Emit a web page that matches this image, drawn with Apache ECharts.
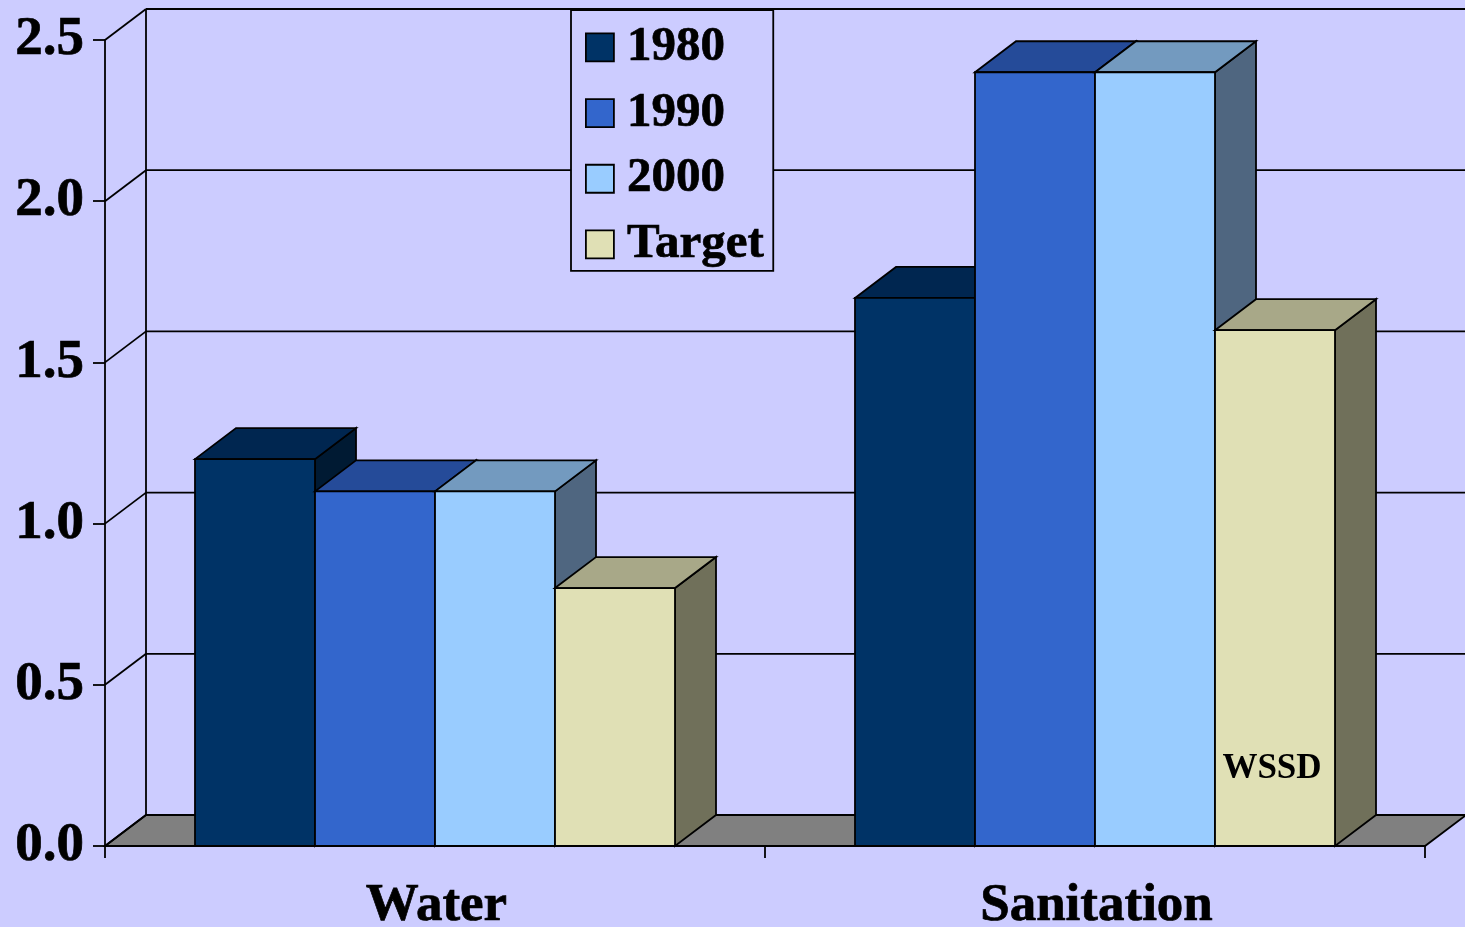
<!DOCTYPE html>
<html>
<head>
<meta charset="utf-8">
<title>Water and sanitation</title>
<script src="https://cdn.jsdelivr.net/npm/echarts@6/dist/echarts.min.js"></script>
<style>
  html, body { margin: 0; padding: 0; background: #ccccff; overflow: hidden; }
  #chart { width: 1465px; height: 927px; }
</style>
</head>
<body>
<div id="chart"></div>
<script>
// Chart values
const categories = ['Water', 'Sanitation'];
const periods = ['1980', '1990', '2000', 'Target'];
const values1980 = [1.2, 1.7];
const values1990 = [1.1, 2.4];
const values2000 = [1.1, 2.4];
const valuesTarget = [0.8, 1.6];
const yTicks = [0, 0.5, 1.0, 1.5, 2.0, 2.5];
const targetNotes = ['', 'WSSD'];
const noteLevel = 0.24;

// Drawing constants
const FONT = '"Liberation Serif", "Times New Roman", serif';
const DEPTH_X = 41;
const DEPTH_Y = -31;
const BAR_SHARE = 120 / 660;
const STROKE = '#000000';
const LINE_W = 1.8;
const TEXT_WEIGHT = { color: '#000', textBorderColor: '#000', textBorderWidth: 0.7 };

// front, top, side fill for each period
const palette = [
  { front: '#003366', top: '#002650', side: '#001a33' },
  { front: '#3366cc', top: '#254b99', side: '#1a3366' },
  { front: '#99ccff', top: '#739abf', side: '#4f6680' },
  { front: '#e0e0b5', top: '#a8a888', side: '#70705a' }
];

function poly(points, fill) {
  return {
    type: 'polygon',
    shape: { points: points },
    style: { fill: fill, stroke: STROKE, lineWidth: LINE_W, lineJoin: 'miter' }
  };
}

function line(x1, y1, x2, y2) {
  return {
    type: 'line',
    shape: { x1: x1, y1: y1, x2: x2, y2: y2 },
    style: { stroke: STROKE, lineWidth: LINE_W }
  };
}

// Floor, back wall and its gridlines, projected from the value axis
function renderWall(params, api) {
  const level = api.value(0);
  const p = api.coord([0, level]);
  const band = api.size([1, 0])[0];
  const xLeft = p[0] - band / 2;
  const xRight = xLeft + band * categories.length;
  const children = [];
  if (level === 0) {
    children.push(poly([
      [xLeft, p[1]],
      [xLeft + DEPTH_X, p[1] + DEPTH_Y],
      [xRight + DEPTH_X, p[1] + DEPTH_Y],
      [xRight, p[1]]
    ], '#808080'));
  }
  if (level === yTicks[yTicks.length - 1]) {
    const base = api.coord([0, 0]);
    children.push(line(xLeft + DEPTH_X, p[1] + DEPTH_Y, xLeft + DEPTH_X, base[1] + DEPTH_Y));
  }
  children.push(line(xLeft, p[1], xLeft + DEPTH_X, p[1] + DEPTH_Y));
  children.push(line(xLeft + DEPTH_X, p[1] + DEPTH_Y, xRight + DEPTH_X, p[1] + DEPTH_Y));
  return { type: 'group', children: children };
}

// One extruded bar per data item: side, top, then front face
function makeBarRenderer(index) {
  return function (params, api) {
    const cat = api.value(0);
    const val = api.value(1);
    const top = api.coord([cat, val]);
    const base = api.coord([cat, 0]);
    const band = api.size([1, 0])[0];
    const w = band * BAR_SHARE;
    const x1 = top[0] - w * periods.length / 2 + w * index;
    const x2 = x1 + w;
    const colors = palette[index];
    const children = [
      poly([[x2, top[1]], [x2 + DEPTH_X, top[1] + DEPTH_Y], [x2 + DEPTH_X, base[1] + DEPTH_Y], [x2, base[1]]], colors.side),
      poly([[x1, top[1]], [x1 + DEPTH_X, top[1] + DEPTH_Y], [x2 + DEPTH_X, top[1] + DEPTH_Y], [x2, top[1]]], colors.top),
      poly([[x1, top[1]], [x2, top[1]], [x2, base[1]], [x1, base[1]]], colors.front)
    ];
    if (periods[index] === 'Target' && targetNotes[cat]) {
      const at = api.coord([cat, noteLevel]);
      children.push({
        type: 'text',
        style: {
          x: (x1 + x2) / 2 - 3,
          y: at[1],
          text: targetNotes[cat],
          fill: '#000',
          font: 'bold 35px ' + FONT,
          textAlign: 'center',
          textVerticalAlign: 'middle'
        }
      });
    }
    return { type: 'group', children: children };
  };
}

const seriesValues = [values1980, values1990, values2000, valuesTarget];

const barSeries = periods.map(function (name, i) {
  return {
    type: 'custom',
    name: name,
    coordinateSystem: 'cartesian2d',
    clip: false,
    renderItem: makeBarRenderer(i),
    encode: { x: 0, y: 1 },
    itemStyle: { color: palette[i].front },
    data: seriesValues[i].map(function (v, c) { return [c, v]; }),
    z: 3
  };
});

const chart = echarts.init(document.getElementById('chart'), null, { renderer: 'canvas' });
chart.setOption({
  animation: false,
  backgroundColor: '#ccccff',
  grid: { left: 105, top: 40, width: 1320, height: 806, containLabel: false, outerBoundsMode: 'none' },
  legend: {
    data: periods,
    orient: 'vertical',
    left: 571,
    top: 10,
    padding: [12.5, 9, 1.5, 14],
    itemWidth: 28,
    itemHeight: 28,
    itemGap: 16,
    icon: 'rect',
    selectedMode: false,
    backgroundColor: '#ccccff',
    borderColor: '#000',
    borderWidth: 1.8,
    borderRadius: 0,
    itemStyle: { borderColor: '#000', borderWidth: 1.8 },
    textStyle: Object.assign({
      fontFamily: FONT,
      fontWeight: 'bold',
      fontSize: 49,
      padding: [0, 0, 4, 8]
    }, TEXT_WEIGHT)
  },
  xAxis: {
    type: 'category',
    data: categories,
    boundaryGap: true,
    z: 5,
    axisLine: { lineStyle: { color: '#000', width: 2 } },
    axisTick: { show: true, length: 12, alignWithLabel: false, lineStyle: { color: '#000', width: 1.8 } },
    axisLabel: Object.assign({
      margin: 34,
      fontFamily: FONT,
      fontWeight: 'bold',
      fontSize: 53,
      padding: [0, 0, 0, 3]
    }, TEXT_WEIGHT),
    splitLine: { show: false }
  },
  yAxis: {
    type: 'value',
    min: 0,
    max: 2.5,
    interval: 0.5,
    axisLine: { show: true, lineStyle: { color: '#000', width: 1.8 } },
    axisTick: { show: true, length: 12, lineStyle: { color: '#000', width: 1.8 } },
    axisLabel: Object.assign({
      margin: 21,
      fontFamily: FONT,
      fontWeight: 'bold',
      fontSize: 55,
      padding: [3, 0, 0, 0],
      formatter: function (v) { return v.toFixed(1); }
    }, TEXT_WEIGHT),
    splitLine: { show: false }
  },
  series: [{
    type: 'custom',
    name: 'wall',
    coordinateSystem: 'cartesian2d',
    clip: false,
    renderItem: renderWall,
    encode: { y: 0 },
    silent: true,
    data: yTicks.map(function (t) { return [t]; }),
    z: 1
  }].concat(barSeries)
});
</script>
</body>
</html>
